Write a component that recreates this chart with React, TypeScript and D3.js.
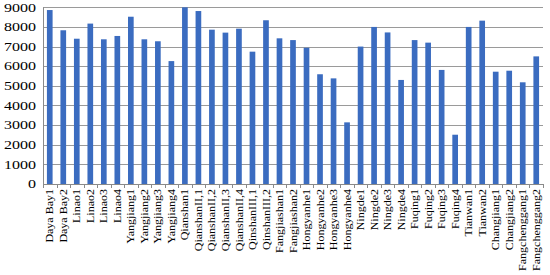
import React, { useRef, useEffect } from 'react';
import * as d3 from 'd3';

// reactor units along the x axis
const categories = [
  'Daya Bay1', 'Daya Bay2', 'Linao1', 'Linao2', 'Linao3', 'Linao4',
  'Yangjiang1', 'Yangjiang2', 'Yangjiang3', 'Yangjiang4', 'Qianshan1',
  'QianshanII,1', 'QianshanII,2', 'QianshanII,3', 'QianshanII,4',
  'QinshanIII,1', 'QinshanIII,2', 'Fangjiashan1', 'Fangjiashan2',
  'Hongyanhe1', 'Hongyanhe2', 'Hongyanhe3', 'Hongyanhe4',
  'Ningde1', 'Ningde2', 'Ningde3', 'Ningde4',
  'Fuqing1', 'Fuqing2', 'Fuqing3', 'Fuqing4',
  'Tianwan1', 'Tianwan2', 'Changjiang1', 'Changjiang2',
  'Fangchenggang1', 'Fangchenggang2',
];

const values = [
  8860, 7830, 7400, 8170, 7370, 7540,
  8520, 7370, 7270, 6260, 9000,
  8810, 7860, 7710, 7910,
  6740, 8340, 7420, 7330,
  6940, 5590, 5380, 3140,
  7000, 8000, 7720, 5300,
  7330, 7200, 5810, 2510,
  8000, 8320, 5720, 5770,
  5180, 6500,
];

const yTicks = [0, 1000, 2000, 3000, 4000, 5000, 6000, 7000, 8000, 9000];

const BarChart = ({ width = 550, height = 275 }) => {
  const ref = useRef<SVGSVGElement>(null);

  useEffect(() => {
    d3.select(ref.current).selectAll('*').remove();

    const left = 43, right = 543, top = 7.3, bottom = 184;

    const x = d3.scaleBand<string>()
      .domain(categories)
      .range([left, right])
      .paddingInner(0.58)
      .paddingOuter(0.29);

    const y = d3.scaleLinear()
      .domain([0, 9000])
      .range([bottom, top]);

    const svg = d3.select(ref.current)
      .attr('width', width)
      .attr('height', height)
      .style('background', '#fff');

    // gridlines
    svg.append('g')
      .selectAll('line')
      .data(yTicks.slice(1))
      .enter().append('line')
      .attr('x1', left)
      .attr('x2', right)
      .attr('y1', d => Math.round(y(d)) + 0.5)
      .attr('y2', d => Math.round(y(d)) + 0.5)
      .attr('stroke', '#9a9a9a')
      .attr('stroke-width', 1);

    // y labels
    svg.append('g')
      .selectAll('text')
      .data(yTicks)
      .enter().append('text')
      .attr('x', 36)
      .attr('y', d => y(d))
      .attr('dy', '0.35em')
      .attr('text-anchor', 'end')
      .attr('font-family', '"Liberation Serif", "Times New Roman", serif')
      .attr('font-size', 12)
      .attr('textLength', d => String(d).length * 8)
      .attr('lengthAdjust', 'spacingAndGlyphs')
      .attr('fill', '#000')
      .text(d => d);

    // bars
    svg.append('g')
      .selectAll('rect')
      .data(values)
      .enter().append('rect')
      .attr('x', (d, i) => x(categories[i])!)
      .attr('width', x.bandwidth())
      .attr('y', d => y(d))
      .attr('height', d => y(0) - y(d))
      .attr('fill', '#3b6cc0');

    // axes lines
    svg.append('line')
      .attr('x1', left + 0.5).attr('x2', left + 0.5)
      .attr('y1', top).attr('y2', bottom)
      .attr('stroke', '#8a8a8a');
    svg.append('line')
      .attr('x1', left).attr('x2', right)
      .attr('y1', bottom + 0.5).attr('y2', bottom + 0.5)
      .attr('stroke', '#8a8a8a');

    // tick marks between categories
    const step = x.step();
    const ticks = d3.range(categories.length + 1).map(i => left + i * step);
    svg.append('g')
      .selectAll('line')
      .data(ticks)
      .enter().append('line')
      .attr('x1', d => Math.round(d) + 0.5)
      .attr('x2', d => Math.round(d) + 0.5)
      .attr('y1', bottom)
      .attr('y2', bottom + 4)
      .attr('stroke', '#8a8a8a');

    // category labels, rotated
    svg.append('g')
      .selectAll('text')
      .data(categories)
      .enter().append('text')
      .attr('transform', d => `translate(${x(d)! + x.bandwidth() / 2},189) rotate(-90) scale(1,0.85)`)
      .attr('text-anchor', 'end')
      .attr('dy', '0.35em')
      .attr('font-family', '"Liberation Serif", "Times New Roman", serif')
      .attr('font-size', 12)
      .attr('fill', '#000')
      .text(d => d);
  }, [width, height]);

  return <svg ref={ref} style={{ display: 'block' }} />;
};

export default function App() {
  return (
    <div style={{ position: 'fixed', left: 0, top: 0 }}>
      <BarChart />
    </div>
  );
}
